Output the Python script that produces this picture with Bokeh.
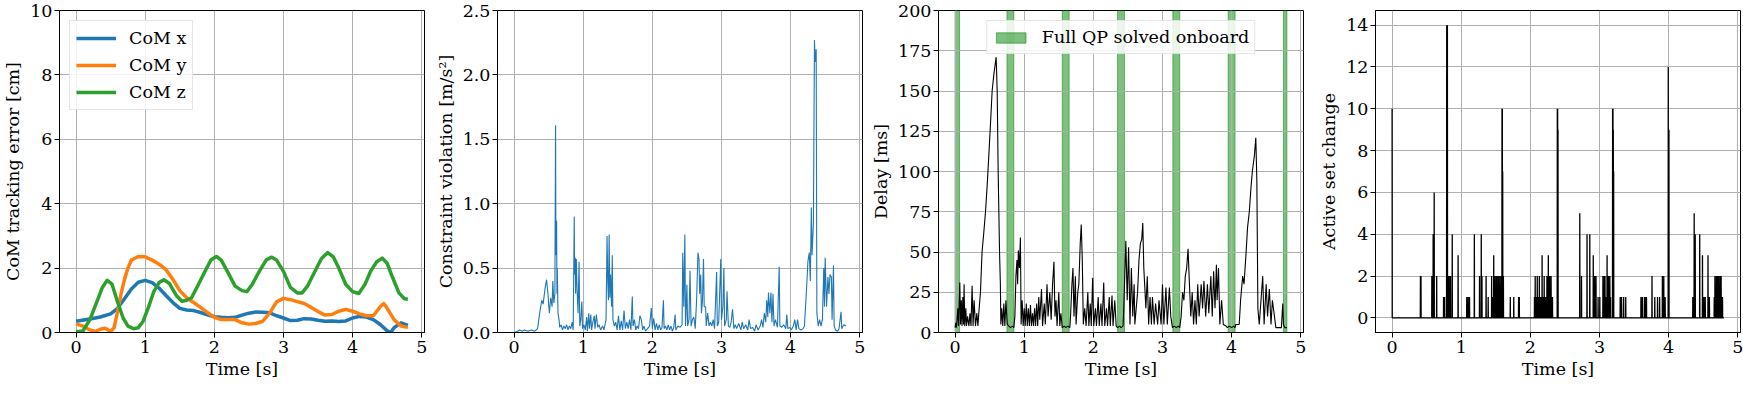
from bokeh.plotting import figure
from bokeh.layouts import row
from bokeh.models import Range1d, FixedTicker, NumeralTickFormatter, Legend, LegendItem
from bokeh.embed import file_html
from bokeh.resources import INLINE

# ---------------- data ----------------
# Panel 1: CoM tracking error [cm]
com_x_t = [0.0, 0.2, 0.35, 0.5, 0.6, 0.7, 0.8, 0.9, 1.0, 1.1, 1.2, 1.3, 1.4, 1.5, 1.6, 1.7, 1.8, 1.9,
           2.0, 2.1, 2.2, 2.3, 2.4, 2.5, 2.6, 2.7, 2.8, 2.9, 3.0, 3.1, 3.2, 3.3, 3.4, 3.5, 3.6, 3.7,
           3.8, 3.9, 4.0, 4.1, 4.2, 4.3, 4.4, 4.5, 4.55, 4.6, 4.7, 4.8]
com_x = [0.35, 0.42, 0.48, 0.58, 0.75, 1.05, 1.35, 1.56, 1.62, 1.55, 1.38, 1.15, 0.93, 0.75, 0.70, 0.68,
         0.62, 0.55, 0.49, 0.47, 0.46, 0.47, 0.54, 0.60, 0.64, 0.63, 0.61, 0.52, 0.45, 0.37, 0.38, 0.43,
         0.42, 0.38, 0.35, 0.36, 0.34, 0.36, 0.45, 0.50, 0.48, 0.40, 0.25, 0.05, 0.0, 0.15, 0.30, 0.22]

com_y_t = [0.0, 0.1, 0.2, 0.28, 0.35, 0.42, 0.5, 0.55, 0.6, 0.65, 0.7, 0.75, 0.8, 0.9, 1.0, 1.1, 1.2,
           1.3, 1.4, 1.5, 1.6, 1.7, 1.8, 1.9, 2.0, 2.1, 2.2, 2.3, 2.4, 2.5, 2.6, 2.7, 2.8, 2.9, 3.0,
           3.1, 3.2, 3.3, 3.4, 3.5, 3.6, 3.7, 3.8, 3.9, 4.0, 4.1, 4.2, 4.3, 4.4, 4.45, 4.5, 4.6, 4.7, 4.8]
com_y = [0.27, 0.20, 0.08, 0.03, 0.10, 0.13, 0.03, 0.15, 0.65, 1.20, 1.65, 2.00, 2.25, 2.36, 2.35, 2.25,
         2.12, 1.95, 1.65, 1.30, 1.08, 0.93, 0.78, 0.62, 0.47, 0.40, 0.40, 0.40, 0.30, 0.26, 0.28, 0.35,
         0.60, 0.95, 1.06, 1.02, 0.96, 0.90, 0.78, 0.65, 0.54, 0.56, 0.66, 0.72, 0.66, 0.58, 0.52, 0.52,
         0.80, 0.90, 0.75, 0.40, 0.20, 0.16]

com_z_t = [0.0, 0.1, 0.2, 0.3, 0.38, 0.45, 0.52, 0.6, 0.68, 0.75, 0.83, 0.9, 0.97, 1.05, 1.12, 1.2, 1.27,
           1.35, 1.45, 1.53, 1.6, 1.67, 1.76, 1.86, 1.95, 2.03, 2.1, 2.2, 2.3, 2.4, 2.47, 2.55, 2.65,
           2.75, 2.83, 2.9, 3.0, 3.1, 3.2, 3.27, 3.35, 3.45, 3.55, 3.64, 3.72, 3.8, 3.9, 4.0, 4.09,
           4.18, 4.26, 4.35, 4.43, 4.5, 4.58, 4.67, 4.75, 4.8]
com_z = [0.02, 0.05, 0.40, 0.95, 1.40, 1.62, 1.50, 0.95, 0.45, 0.20, 0.12, 0.15, 0.35, 0.80, 1.25, 1.55,
         1.64, 1.52, 1.15, 0.97, 1.00, 1.08, 1.45, 1.88, 2.25, 2.36, 2.25, 1.85, 1.44, 1.30, 1.27, 1.50,
         1.90, 2.25, 2.34, 2.25, 1.90, 1.40, 1.23, 1.23, 1.45, 1.88, 2.30, 2.48, 2.35, 2.00, 1.50, 1.27,
         1.21, 1.50, 1.90, 2.20, 2.31, 2.15, 1.70, 1.23, 1.05, 1.03]

# Panel 2: constraint violation [m/s^2]
viol_t = [0.00, 0.05, 0.08, 0.12, 0.15, 0.20, 0.25, 0.30, 0.34, 0.37, 0.40, 0.42, 0.45, 0.47, 0.49,
          0.51, 0.53, 0.55, 0.56, 0.575, 0.59, 0.60, 0.605, 0.615, 0.62, 0.625, 0.635, 0.65, 0.66,
          0.68, 0.70, 0.72, 0.74, 0.76, 0.78, 0.80, 0.82, 0.84, 0.855, 0.87, 0.875, 0.885, 0.89,
          0.90, 0.91, 0.925, 0.94, 0.95, 0.965, 0.98, 0.99, 1.01, 1.03, 1.05, 1.06, 1.08, 1.09, 1.11,
          1.12, 1.14, 1.16, 1.17, 1.19, 1.21, 1.23, 1.25, 1.28, 1.30, 1.33, 1.345, 1.355, 1.365,
          1.375, 1.385, 1.395, 1.41, 1.42, 1.43, 1.45, 1.47, 1.49, 1.51, 1.53, 1.55, 1.57, 1.59,
          1.61, 1.63, 1.65, 1.67, 1.69, 1.71, 1.72, 1.74, 1.76, 1.78, 1.80, 1.82, 1.84, 1.86, 1.88,
          1.90, 1.93, 1.96, 1.985, 2.00, 2.02, 2.04, 2.06, 2.08, 2.10, 2.12, 2.14, 2.16, 2.17, 2.19,
          2.21, 2.23, 2.25, 2.27, 2.29, 2.31, 2.33, 2.34, 2.37, 2.40, 2.43, 2.44, 2.455, 2.47, 2.48,
          2.50, 2.51, 2.53, 2.545, 2.56, 2.58, 2.60, 2.62, 2.64, 2.66, 2.675, 2.685, 2.70, 2.71,
          2.725, 2.74, 2.75, 2.77, 2.78, 2.80, 2.82, 2.84, 2.86, 2.88, 2.90, 2.93, 2.94, 2.96, 2.99,
          3.00, 3.02, 3.035, 3.045, 3.07, 3.08, 3.10, 3.12, 3.14, 3.16, 3.18, 3.20, 3.22, 3.25, 3.28,
          3.30, 3.32, 3.35, 3.38, 3.40, 3.42, 3.45, 3.48, 3.50, 3.53, 3.56, 3.58, 3.60, 3.62, 3.64,
          3.655, 3.67, 3.68, 3.70, 3.715, 3.73, 3.745, 3.76, 3.78, 3.81, 3.835, 3.845, 3.87, 3.90,
          3.93, 3.945, 3.96, 3.99, 4.01, 4.04, 4.06, 4.08, 4.10, 4.12, 4.15, 4.18, 4.20, 4.23, 4.25,
          4.27, 4.285, 4.30, 4.31, 4.33, 4.345, 4.355, 4.37, 4.38, 4.40, 4.42, 4.44, 4.46, 4.48,
          4.49, 4.50, 4.52, 4.54, 4.555, 4.57, 4.59, 4.60, 4.62, 4.63, 4.65, 4.68, 4.70, 4.73, 4.74,
          4.77, 4.80]
viol = [0.00, 0.01, 0.02, 0.01, 0.02, 0.01, 0.02, 0.01, 0.03, 0.15, 0.25, 0.22, 0.35, 0.41, 0.30,
        0.15, 0.27, 0.20, 0.40, 0.23, 0.30, 1.61, 0.60, 0.87, 0.30, 0.50, 0.15, 0.10, 0.04,
        0.06, 0.02, 0.05, 0.03, 0.06, 0.02, 0.05, 0.03, 0.08, 0.02, 0.90, 0.45, 0.58, 0.30,
        0.57, 0.35, 0.15, 0.55, 0.05, 0.10, 0.24, 0.03, 0.06, 0.02, 0.12, 0.01, 0.15, 0.03, 0.14,
        0.02, 0.08, 0.13, 0.03, 0.14, 0.04, 0.06, 0.02, 0.05, 0.02, 0.10, 0.75, 0.40, 0.25,
        0.76, 0.27, 0.45, 0.20, 0.60, 0.10, 0.05, 0.08, 0.02, 0.13, 0.02, 0.09, 0.02, 0.17,
        0.03, 0.08, 0.03, 0.10, 0.02, 0.28, 0.05, 0.10, 0.02, 0.05, 0.03, 0.13, 0.10, 0.02, 0.05,
        0.01, 0.03, 0.05, 0.19, 0.03, 0.11, 0.02, 0.07, 0.02, 0.06, 0.02, 0.04, 0.25, 0.03, 0.05,
        0.02, 0.06, 0.02, 0.05, 0.01, 0.04, 0.14, 0.02, 0.05, 0.04, 0.06, 0.62, 0.20, 0.76, 0.05,
        0.37, 0.05, 0.10, 0.48, 0.05, 0.10, 0.12, 0.03, 0.25, 0.62, 0.57, 0.30, 0.45, 0.15,
        0.25, 0.57, 0.20, 0.20, 0.05, 0.15, 0.05, 0.08, 0.05, 0.10, 0.03, 0.47, 0.05, 0.08, 0.57,
        0.10, 0.20, 0.50, 0.05, 0.10, 0.32, 0.05, 0.04, 0.08, 0.18, 0.03, 0.06, 0.03, 0.07, 0.02,
        0.08, 0.03, 0.06, 0.02, 0.10, 0.03, 0.04, 0.01, 0.06, 0.02, 0.05, 0.10, 0.04, 0.15, 0.08,
        0.25, 0.12, 0.31, 0.15, 0.31, 0.08, 0.30, 0.05, 0.10, 0.04, 0.51, 0.05, 0.04, 0.06,
        0.03, 0.14, 0.03, 0.04, 0.02, 0.05, 0.10, 0.02, 0.10, 0.03, 0.02, 0.03, 0.05, 0.33, 0.55,
        0.62, 0.40, 0.97, 0.60, 0.85, 2.27, 2.10, 2.20, 0.15, 0.05, 0.10, 0.05, 0.10, 0.50,
        0.20, 0.58, 0.20, 0.43, 0.30, 0.45, 0.43, 0.10, 0.52, 0.05, 0.02, 0.01, 0.03, 0.16, 0.03,
        0.06, 0.05]

# Panel 3: delay [ms] and onboard full-QP windows [s]
delay_t = [0.000, 0.010, 0.020, 0.040, 0.050, 0.068, 0.078, 0.090, 0.100, 0.112, 0.122, 0.130, 0.140,
           0.155, 0.165, 0.180, 0.200, 0.215, 0.230, 0.246, 0.260, 0.275, 0.295, 0.315, 0.330, 0.343,
           0.367, 0.390, 0.415, 0.440, 0.465, 0.488, 0.510, 0.536, 0.560, 0.575, 0.594, 0.609, 0.623,
           0.643, 0.655, 0.662, 0.675, 0.690, 0.705, 0.720, 0.735, 0.754, 0.780, 0.800, 0.830, 0.850,
           0.865, 0.880, 0.895, 0.905, 0.915, 0.930, 0.945, 0.955, 0.970, 0.985, 1.000, 1.015, 1.030,
           1.045, 1.060, 1.075, 1.090, 1.105, 1.120, 1.135, 1.150, 1.165, 1.180, 1.195, 1.210, 1.225,
           1.250, 1.265, 1.290, 1.305, 1.330, 1.345, 1.370, 1.390, 1.410, 1.430, 1.445, 1.460, 1.475,
           1.500, 1.515, 1.530, 1.550, 1.580, 1.600, 1.630, 1.660, 1.670, 1.690, 1.705, 1.720, 1.740,
           1.750, 1.775, 1.790, 1.810, 1.825, 1.840, 1.855, 1.875, 1.895, 1.920, 1.935, 1.955, 1.970,
           1.990, 2.005, 2.030, 2.045, 2.070, 2.085, 2.110, 2.125, 2.150, 2.165, 2.190, 2.205, 2.230,
           2.245, 2.270, 2.285, 2.310, 2.330, 2.350, 2.380, 2.400, 2.430, 2.440, 2.470, 2.490, 2.510,
           2.530, 2.550, 2.570, 2.590, 2.600, 2.640, 2.660, 2.680, 2.700, 2.715, 2.730, 2.760, 2.780,
           2.800, 2.820, 2.840, 2.855, 2.880, 2.900, 2.930, 2.950, 2.980, 3.000, 3.020, 3.050, 3.070,
           3.100, 3.120, 3.145, 3.170, 3.200, 3.230, 3.250, 3.270, 3.290, 3.310, 3.330, 3.350, 3.370,
           3.390, 3.410, 3.430, 3.450, 3.470, 3.490, 3.510, 3.530, 3.560, 3.580, 3.600, 3.625, 3.650,
           3.670, 3.700, 3.720, 3.740, 3.760, 3.780, 3.790, 3.810, 3.830, 3.855, 3.880, 3.920, 3.940,
           3.970, 4.000, 4.030, 4.050, 4.060, 4.110, 4.130, 4.160, 4.180, 4.210, 4.230, 4.256, 4.280,
           4.300, 4.330, 4.350, 4.365, 4.380, 4.400, 4.425, 4.450, 4.470, 4.500, 4.520, 4.546, 4.570,
           4.590, 4.620, 4.640, 4.720, 4.740, 4.750, 4.770, 4.800]
delay = [3, 6, 3, 15, 4, 31, 5, 20, 4, 22, 5, 30, 4,
         15, 4, 10, 4, 12, 4, 29, 4, 20, 4, 12, 4, 12,
         25, 50, 62, 75, 92, 110, 128, 150, 160, 165, 171, 150, 100,
         50, 30, 5, 15, 4, 18, 4, 20, 5, 4, 3, 4, 3,
         10, 35, 45, 30, 51, 40, 59, 5, 20, 4, 15, 4, 18,
         4, 15, 4, 17, 4, 12, 4, 15, 4, 18, 4, 22, 8,
         27, 4, 18, 5, 30, 10, 25, 8, 30, 44, 10, 20, 4,
         25, 4, 12, 3, 4, 3, 4, 3, 10, 30, 40, 10, 35,
         5, 25, 30, 55, 67, 45, 5, 15, 4, 25, 4, 18, 4,
         34, 4, 15, 4, 22, 4, 18, 4, 31, 4, 15, 4, 22,
         4, 23, 4, 20, 4, 3, 4, 3, 4, 15, 57, 20, 53,
         5, 40, 10, 30, 5, 25, 45, 55, 58, 68, 40, 15, 35,
         5, 22, 5, 22, 5, 18, 5, 20, 5, 30, 5, 28, 5,
         28, 10, 3, 4, 3, 4, 3, 10, 25, 20, 35, 40, 52,
         30, 10, 25, 5, 20, 5, 30, 10, 30, 15, 32, 10, 30,
         12, 35, 10, 38, 15, 42, 20, 40, 5, 20, 5, 4, 3,
         4, 3, 4, 3, 5, 5, 20, 35, 30, 50, 65, 75, 90,
         100, 110, 121, 95, 15, 5, 20, 35, 5, 30, 10, 27, 5,
         20, 10, 3, 3, 18, 5, 3, 3]
qp_start = [0.0, 0.75, 1.55, 2.35, 3.15, 3.95, 4.75]
qp_end = [0.065, 0.85, 1.65, 2.45, 3.25, 4.05, 4.80]

# Panel 4: active set change (spike times [s] and sizes)
as_t = [0.0, 0.410, 0.418, 0.575, 0.594, 0.609, 0.645, 0.745, 0.760, 0.790, 0.795, 0.800, 0.815,
        0.835, 0.845, 0.870, 0.955, 1.08, 1.10, 1.12, 1.19, 1.265, 1.29, 1.30, 1.36, 1.39,
        1.44, 1.45, 1.47, 1.48, 1.49, 1.50, 1.51, 1.52, 1.53, 1.54, 1.55, 1.56, 1.57, 1.58, 1.59,
        1.595, 1.60, 1.61, 1.71, 1.76, 1.83, 1.84, 2.06, 2.07, 2.08, 2.10, 2.11, 2.13, 2.15, 2.17,
        2.18, 2.20, 2.22, 2.24, 2.26, 2.27, 2.28, 2.29, 2.30, 2.31, 2.32, 2.39, 2.395, 2.40,
        2.715, 2.74, 2.82, 2.86, 2.91, 2.93, 2.95, 2.98, 3.005, 3.05, 3.06, 3.07, 3.08, 3.10,
        3.11, 3.12, 3.13, 3.15, 3.16, 3.19, 3.195, 3.20, 3.205, 3.30, 3.32, 3.35, 3.38, 3.60,
        3.62, 3.65, 3.67, 3.68, 3.76, 3.80, 3.84, 3.87, 3.91, 3.93, 3.95, 3.995, 4.00, 4.005,
        4.35, 4.37, 4.385, 4.45, 4.49, 4.51, 4.53, 4.57, 4.59, 4.66, 4.67, 4.68, 4.69, 4.70,
        4.71, 4.72, 4.73, 4.74, 4.75, 4.76, 4.78]
as_v = [10, 2, 2, 2, 4, 6, 2, 1, 1, 14, 14, 14, 2,
        2, 2, 4, 3, 1, 1, 1, 4, 2, 4, 2, 2, 1,
        2, 1, 3, 2, 1, 2, 2, 1, 2, 2, 1, 2, 1, 2, 10,
        10, 7, 2, 1, 1, 1, 1, 1, 2, 1, 2, 1, 2, 1, 3,
        1, 2, 1, 2, 3, 2, 2, 1, 2, 1, 1, 10, 10, 9,
        5, 2, 4, 4, 3, 2, 2, 1, 1, 2, 1, 2, 2, 1,
        3, 2, 2, 2, 1, 10, 10, 9, 7, 1, 1, 1, 1, 1,
        1, 1, 1, 1, 2, 1, 1, 1, 2, 2, 1, 12, 9, 9,
        1, 5, 4, 4, 3, 1, 1, 3, 1, 1, 2, 1, 2, 2,
        2, 2, 1, 2, 2, 2, 1]
T_END = 4.8

X_RANGE = (-0.24, 5.04)
COM_YLIM = (0, 10)
VIOL_YLIM = (0, 2.5)
DELAY_YLIM = (0, 200)
AS_YLIM = (-0.7, 14.7)

FONT = "DejaVu Serif"
FS = "17.5px"
FRAME_W, FRAME_H = 365, 322


def make_fig(yr, left, right):
    p = figure(frame_width=FRAME_W, frame_height=FRAME_H, output_backend="svg",
               toolbar_location=None, x_range=Range1d(*X_RANGE), y_range=Range1d(*yr),
               min_border_left=left, min_border_right=right, min_border_top=10,
               min_border_bottom=46)
    p.title.visible = False
    p.outline_line_color = "black"
    p.outline_line_alpha = 1
    p.outline_line_width = 1
    p.background_fill_color = "white"
    p.border_fill_color = "white"
    for g in (p.xgrid[0], p.ygrid[0]):
        g.grid_line_color = "#b0b0b0"
        g.grid_line_alpha = 1
        g.grid_line_width = 1
    for ax in (p.xaxis[0], p.yaxis[0]):
        ax.axis_line_color = "black"
        ax.major_tick_line_color = "black"
        ax.major_tick_out = 5
        ax.major_tick_in = 0
        ax.minor_tick_out = 0
        ax.minor_tick_in = 0
        ax.major_label_text_font = FONT
        ax.major_label_text_font_size = FS
        ax.major_label_text_color = "black"
        ax.axis_label_text_font = FONT
        ax.axis_label_text_font_size = FS
        ax.axis_label_text_font_style = "normal"
        ax.axis_label_text_color = "black"
    p.xaxis.ticker = FixedTicker(ticks=[0, 1, 2, 3, 4, 5])
    p.xaxis.axis_label = "Time [s]"
    p.xaxis.major_label_standoff = 3
    p.xaxis.axis_label_standoff = 3
    p.yaxis.major_label_standoff = 2
    p.yaxis.axis_label_standoff = 4
    return p


def style_legend(lg):
    lg.label_text_font = FONT
    lg.label_text_font_size = FS
    lg.label_text_color = "black"
    lg.border_line_color = "#cccccc"
    lg.border_line_width = 1
    lg.background_fill_alpha = 0.85
    lg.margin = 10
    lg.padding = 6
    lg.label_standoff = 13
    lg.label_height = 22


# ---- panel 1 ----
p1 = make_fig(COM_YLIM, 50, 6)
p1.yaxis.axis_label = "CoM tracking error [cm]"
p1.yaxis.ticker = FixedTicker(ticks=[0, 2, 4, 6, 8, 10])
r_x = p1.line(com_x_t, com_x, line_color="#1f77b4", line_width=3.5, line_join="round")
r_y = p1.line(com_y_t, com_y, line_color="#ff7f0e", line_width=3.5, line_join="round")
r_z = p1.line(com_z_t, com_z, line_color="#2ca02c", line_width=3.5, line_join="round")
lg1 = Legend(items=[LegendItem(label="CoM x", renderers=[r_x]),
                    LegendItem(label="CoM y", renderers=[r_y]),
                    LegendItem(label="CoM z", renderers=[r_z])],
             location="top_left")
style_legend(lg1)
lg1.glyph_width = 40
lg1.glyph_height = 22
lg1.spacing = 5
p1.add_layout(lg1)

# ---- panel 2 ----
p2 = make_fig(VIOL_YLIM, 67, 6)
p2.yaxis.axis_label = "Constraint violation [m/s²]"
p2.yaxis.ticker = FixedTicker(ticks=[0, 0.5, 1.0, 1.5, 2.0, 2.5])
p2.yaxis.formatter = NumeralTickFormatter(format="0.0")
p2.line(viol_t, viol, line_color="#1f77b4", line_width=1.1)

# ---- panel 3 ----
p3 = make_fig(DELAY_YLIM, 67, 6)
p3.yaxis.axis_label = "Delay [ms]"
p3.yaxis.ticker = FixedTicker(ticks=list(range(0, 201, 25)))
r_qp = p3.quad(left=qp_start, right=qp_end,
               bottom=[DELAY_YLIM[0]] * len(qp_start), top=[DELAY_YLIM[1]] * len(qp_start),
               fill_color="green", fill_alpha=0.5, line_color="green", line_alpha=0.5,
               line_width=1, level="image")
p3.line(delay_t, delay, line_color="black", line_width=1.1)
lg3 = Legend(items=[LegendItem(label="Full QP solved onboard", renderers=[r_qp])],
             location="top_center")
style_legend(lg3)
lg3.glyph_width = 37
lg3.glyph_height = 13
lg3.padding = 5
p3.add_layout(lg3)

# ---- panel 4 ----
p4 = make_fig(AS_YLIM, 66, 3)
p4.yaxis.axis_label = "Active set change"
p4.yaxis.ticker = FixedTicker(ticks=list(range(0, 15, 2)))
half = 0.002
xs, ys = [], []
for t, v in zip(as_t, as_v):
    if t - half >= 0:
        xs.append(t - half)
        ys.append(0)
    xs.append(t)
    ys.append(v)
    xs.append(t + half)
    ys.append(0)
xs.append(T_END)
ys.append(0)
p4.line(xs, ys, line_color="black", line_width=1.3)

layout = row(p1, p2, p3, p4, spacing=0)
open("out.html", "w").write(file_html(layout, INLINE))
